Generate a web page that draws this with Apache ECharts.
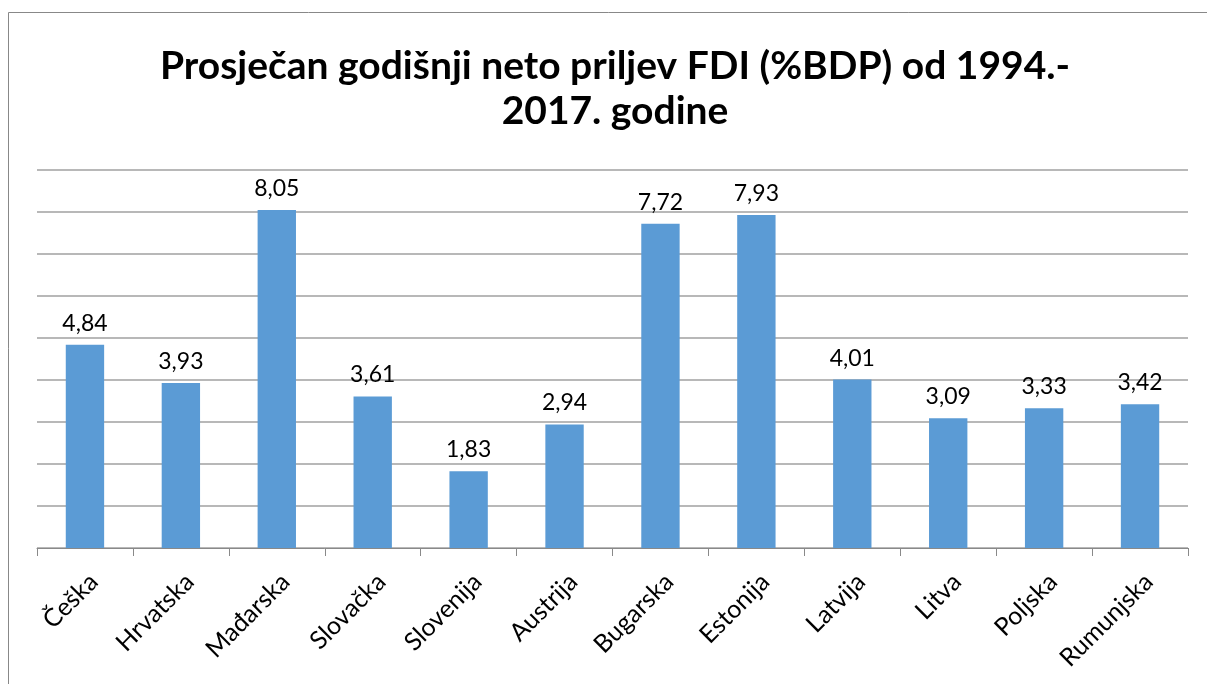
<!DOCTYPE html>
<html>
<head>
<meta charset="utf-8">
<script src="https://cdn.jsdelivr.net/npm/echarts@6/dist/echarts.min.js"></script>
<style>
html,body{margin:0;padding:0;background:#fff;}
#c{width:1207px;height:684px;}
</style>
</head>
<body>
<div id="c"></div>
<script>
const titleText = 'Prosječan godišnji neto priljev FDI (%BDP) od 1994.-\n2017. godine';
const categories = ['Češka','Hrvatska','Mađarska','Slovačka','Slovenija','Austrija','Bugarska','Estonija','Latvija','Litva','Poljska','Rumunjska'];
const values = [4.84, 3.93, 8.05, 3.61, 1.83, 2.94, 7.72, 7.93, 4.01, 3.09, 3.33, 3.42];

const chart = echarts.init(document.getElementById('c'), null, {renderer:'canvas'});
chart.setOption({
  animation: false,
  backgroundColor: '#fff',
  title: {
    text: titleText,
    left: 610,
    top: 39,
    textAlign: 'center',
    textStyle: {fontFamily: 'Lato', fontWeight: 'bold', fontSize: 39, color: '#000', lineHeight: 45}
  },
  graphic: [{
    type: 'rect',
    shape: {x: 8.5, y: 12.5, width: 1300, height: 800},
    style: {fill: 'none', stroke: '#888', lineWidth: 1},
    silent: true
  }],
  grid: {left: 37, right: 19, top: 170, bottom: 136},
  xAxis: {
    type: 'category',
    data: categories,
    axisLine: {lineStyle: {color: '#898989', width: 1}},
    axisTick: {show: true, length: 8, lineStyle: {color: '#898989'}},
    axisLabel: {rotate: 45, margin: 21, verticalAlign: 'top', align: 'right', fontFamily: 'Lato', fontSize: 25, color: '#000', interval: 0}
  },
  yAxis: {
    type: 'value',
    min: 0, max: 9, interval: 1,
    axisLabel: {show: false},
    axisLine: {show: false},
    axisTick: {show: false},
    splitLine: {lineStyle: {color: '#a0a0a0', width: 1.5}}
  },
  series: [{
    type: 'bar',
    data: values,
    barWidth: '40%',
    itemStyle: {color: '#5B9BD5'},
    label: {
      show: true, position: 'top', distance: 10,
      fontFamily: 'Lato', fontSize: 23, color: '#000',
      formatter: p => p.value.toFixed(2).replace('.', ',')
    }
  }]
});
</script>
</body>
</html>
